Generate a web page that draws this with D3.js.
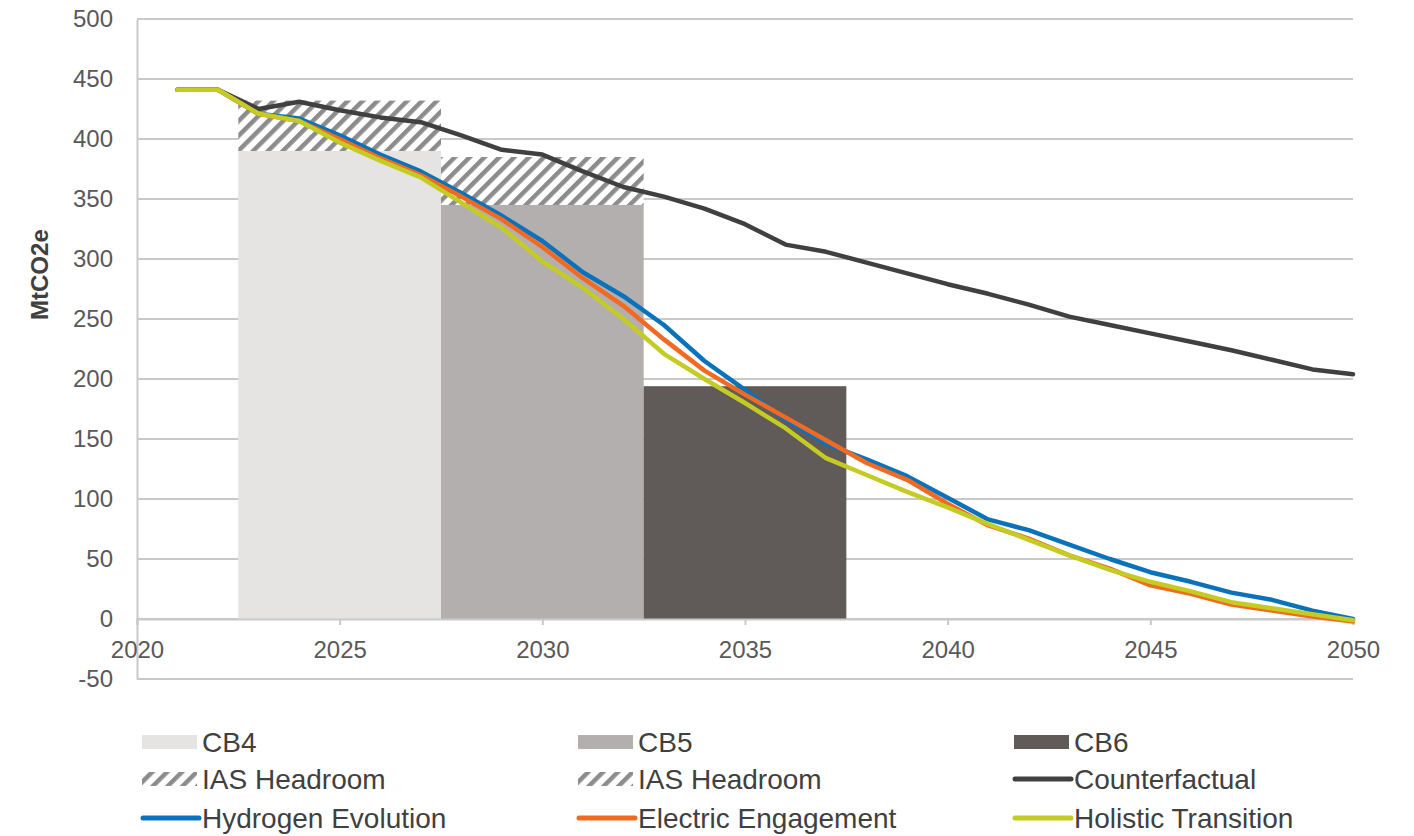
<!DOCTYPE html>
<html>
<head>
<meta charset="utf-8">
<script src="https://cdn.jsdelivr.net/npm/d3@7"></script>
<style>
  body { margin: 0; background: #fff; }
  text { font-family: "Liberation Sans", Arial, sans-serif; }
</style>
</head>
<body>
<div id="chart"></div>
<script>
// chart values
const years = d3.range(2021, 2051);
const counterfactual = [441, 441, 425, 431, 424, 418, 414, 403, 391, 387, 373, 360, 352, 342, 329, 312, 306, 297, 288, 279, 271, 262, 252, 245, 238, 231, 224, 216, 208, 204];
const hydrogen = [441, 441, 421, 417, 403, 387, 373, 355, 336, 315, 289, 269, 245, 215, 191, 166, 146, 133, 119, 101, 83, 74, 62, 50, 39, 31, 22, 16, 7, 0];
const electric = [441, 441, 421, 415, 400, 384, 370, 352, 333, 310, 284, 261, 233, 207, 187, 168, 149, 130, 116, 96, 78, 67, 53, 42, 28, 21, 12, 7, 2, -2];
const holistic = [441, 441, 421, 415, 397, 382, 368, 347, 326, 298, 276, 250, 221, 200, 180, 159, 134, 120, 106, 93, 79, 66, 53, 41, 31, 23, 14, 9, 4, -1];

const budgetNames = ["CB4", "CB5", "CB6"];
const budgetStart = [2022.5, 2027.5, 2032.5];
const budgetEnd = [2027.5, 2032.5, 2037.5];
const budgetValue = [390, 345, 194];
const headroomValue = [432, 385, null];

const yTicks = d3.range(-50, 501, 50);
const xTicks = d3.range(2020, 2051, 5);

const svgWidth = 1414;
const svgHeight = 836;
const margin = { left: 137, right: 61, top: 19, bottom: 157 };

const svg = d3.select("#chart").append("svg")
  .attr("width", svgWidth)
  .attr("height", svgHeight);

const x = d3.scaleLinear().domain([2020, 2050]).range([margin.left, svgWidth - margin.right]);
const y = d3.scaleLinear().domain([-50, 500]).range([svgHeight - margin.bottom, margin.top]);

const gridColor = "#c9c9c9";
const textColor = "#595959";
const budgetColors = ["#e5e4e3", "#b3afae", "#605a59"];
const lineColors = {
  counterfactual: "#404040",
  hydrogen: "#0a72ba",
  electric: "#f26a22",
  holistic: "#c4cc24"
};

// hatch pattern for the IAS headroom
const defs = svg.append("defs");
defs.append("pattern")
  .attr("id", "hatch")
  .attr("patternUnits", "userSpaceOnUse")
  .attr("width", 10.5)
  .attr("height", 10.5)
  .attr("patternTransform", "rotate(45)")
  .call(p => {
    p.append("rect").attr("width", 10.5).attr("height", 10.5).attr("fill", "#fff");
    p.append("rect").attr("width", 4.5).attr("height", 10.5).attr("fill", "#8c8c8c");
  });

// gridlines
svg.append("g")
  .selectAll("line")
  .data(yTicks)
  .join("line")
  .attr("x1", x(2020))
  .attr("x2", x(2050))
  .attr("y1", d => y(d))
  .attr("y2", d => y(d))
  .attr("stroke", gridColor)
  .attr("stroke-width", 2);

// carbon budgets
const bars = svg.append("g");
bars.selectAll("rect.budget")
  .data(budgetNames)
  .join("rect")
  .attr("class", "budget")
  .attr("x", (d, i) => x(budgetStart[i]))
  .attr("width", (d, i) => x(budgetEnd[i]) - x(budgetStart[i]))
  .attr("y", (d, i) => y(budgetValue[i]))
  .attr("height", (d, i) => y(0) - y(budgetValue[i]))
  .attr("fill", (d, i) => budgetColors[i]);

bars.selectAll("rect.headroom")
  .data(budgetNames.filter((d, i) => headroomValue[i] != null))
  .join("rect")
  .attr("class", "headroom")
  .attr("x", (d, i) => x(budgetStart[i]))
  .attr("width", (d, i) => x(budgetEnd[i]) - x(budgetStart[i]))
  .attr("y", (d, i) => y(headroomValue[i]))
  .attr("height", (d, i) => y(budgetValue[i]) - y(headroomValue[i]))
  .attr("fill", "url(#hatch)");

// y axis
const yAxis = svg.append("g")
  .attr("transform", `translate(${x(2020)},0)`)
  .call(d3.axisLeft(y).tickValues(yTicks).tickFormat(d => String(d)).tickSize(0).tickPadding(24));
yAxis.select(".domain").attr("stroke", gridColor).attr("stroke-width", 2);
yAxis.selectAll("text")
  .attr("fill", textColor)
  .style("font-size", "24px");

// x axis on the zero line
const xAxis = svg.append("g")
  .attr("transform", `translate(0,${y(0)})`)
  .call(d3.axisBottom(x).tickValues(xTicks).tickFormat(d => String(d)).tickSize(6).tickPadding(16));
xAxis.select(".domain").attr("stroke", gridColor).attr("stroke-width", 2);
xAxis.selectAll(".tick line").attr("stroke", gridColor).attr("stroke-width", 2);
xAxis.selectAll("text")
  .attr("fill", textColor)
  .style("font-size", "24px");

svg.append("text")
  .attr("transform", `translate(48,${y(287)}) rotate(-90)`)
  .attr("text-anchor", "middle")
  .attr("fill", "#404040")
  .style("font-size", "24px")
  .style("font-weight", "bold")
  .text("MtCO2e");

// emission lines
const line = d3.line()
  .x((d, i) => x(years[i]))
  .y(d => y(d));

const seriesOrder = [
  ["counterfactual", counterfactual],
  ["hydrogen", hydrogen],
  ["electric", electric],
  ["holistic", holistic]
];

svg.append("g")
  .selectAll("path")
  .data(seriesOrder)
  .join("path")
  .attr("d", d => line(d[1]))
  .attr("fill", "none")
  .attr("stroke", d => lineColors[d[0]])
  .attr("stroke-width", 4.5)
  .attr("stroke-linejoin", "round")
  .attr("stroke-linecap", "round");

// legend
const legendItems = [
  { label: "CB4", type: "rect", color: budgetColors[0] },
  { label: "CB5", type: "rect", color: budgetColors[1] },
  { label: "CB6", type: "rect", color: budgetColors[2] },
  { label: "IAS Headroom", type: "hatch" },
  { label: "IAS Headroom", type: "hatch" },
  { label: "Counterfactual", type: "line", color: lineColors.counterfactual },
  { label: "Hydrogen Evolution", type: "line", color: lineColors.hydrogen },
  { label: "Electric Engagement", type: "line", color: lineColors.electric },
  { label: "Holistic Transition", type: "line", color: lineColors.holistic }
];
const legendCols = [142, 578, 1014];
const legendRows = [742, 779, 818];

const legend = svg.append("g");
legendItems.forEach((item, i) => {
  const g = legend.append("g")
    .attr("transform", `translate(${legendCols[i % 3]},${legendRows[Math.floor(i / 3)]})`);
  if (item.type === "rect") {
    g.append("rect").attr("x", 0).attr("y", -7).attr("width", 55).attr("height", 14).attr("fill", item.color);
  } else if (item.type === "hatch") {
    g.append("rect").attr("x", 0).attr("y", -7).attr("width", 55).attr("height", 14).attr("fill", "url(#hatch)");
  } else {
    g.append("line").attr("x1", 1).attr("x2", 57).attr("y1", 0).attr("y2", 0)
      .attr("stroke", item.color).attr("stroke-width", 5).attr("stroke-linecap", "round");
  }
  g.append("text")
    .attr("x", 60)
    .attr("y", 10)
    .attr("fill", "#404040")
    .style("font-size", "28px")
    .text(item.label);
});
</script>
</body>
</html>
